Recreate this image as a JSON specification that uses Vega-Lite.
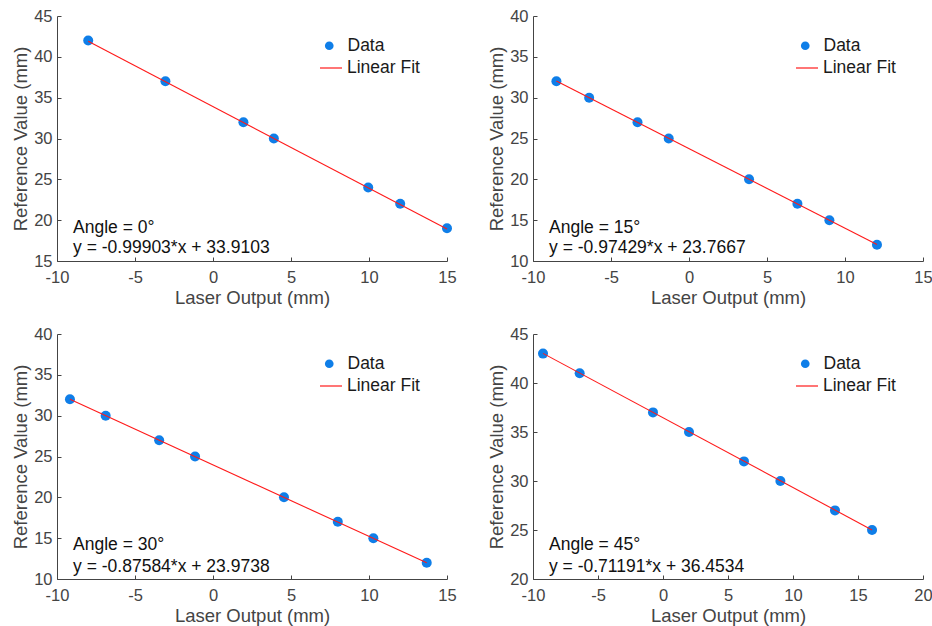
{
  "$schema": "https://vega.github.io/schema/vega-lite/v6.json",
  "background": "white",
  "padding": {"left": 11, "top": 8, "right": 5, "bottom": 5},
  "datasets": {
    "points": [
      {"angle": 0, "x": -8, "y": 42}, {"angle": 0, "x": -3.05, "y": 37}, {"angle": 0, "x": 1.95, "y": 32}, {"angle": 0, "x": 3.9, "y": 30}, {"angle": 0, "x": 9.95, "y": 24}, {"angle": 0, "x": 12, "y": 22}, {"angle": 0, "x": 15, "y": 19},
      {"angle": 15, "x": -8.5, "y": 32}, {"angle": 15, "x": -6.4, "y": 30}, {"angle": 15, "x": -3.3, "y": 27}, {"angle": 15, "x": -1.3, "y": 25}, {"angle": 15, "x": 3.85, "y": 20}, {"angle": 15, "x": 6.95, "y": 17}, {"angle": 15, "x": 9.0, "y": 15}, {"angle": 15, "x": 12.05, "y": 12},
      {"angle": 30, "x": -9.17, "y": 32}, {"angle": 30, "x": -6.88, "y": 30}, {"angle": 30, "x": -3.45, "y": 27}, {"angle": 30, "x": -1.15, "y": 25}, {"angle": 30, "x": 4.55, "y": 20}, {"angle": 30, "x": 8.0, "y": 17}, {"angle": 30, "x": 10.28, "y": 15}, {"angle": 30, "x": 13.7, "y": 12},
      {"angle": 45, "x": -9.23, "y": 43}, {"angle": 45, "x": -6.41, "y": 41}, {"angle": 45, "x": -0.77, "y": 37}, {"angle": 45, "x": 2.0, "y": 35}, {"angle": 45, "x": 6.23, "y": 32}, {"angle": 45, "x": 9.03, "y": 30}, {"angle": 45, "x": 13.23, "y": 27}, {"angle": 45, "x": 16.08, "y": 25}
    ],
    "fit": [
      {"angle": 0, "x": -8, "y": 41.90}, {"angle": 0, "x": 15, "y": 18.925},
      {"angle": 15, "x": -8.5, "y": 32.048}, {"angle": 15, "x": 12.05, "y": 12.026},
      {"angle": 30, "x": -9.17, "y": 32.005}, {"angle": 30, "x": 13.7, "y": 11.975},
      {"angle": 45, "x": -9.23, "y": 43.024}, {"angle": 45, "x": 16.08, "y": 25.006}
    ],
    "notes": [
      {"angle": 0, "line1": "Angle = 0°", "line2": "y = -0.99903*x + 33.9103"},
      {"angle": 15, "line1": "Angle = 15°", "line2": "y = -0.97429*x + 23.7667"},
      {"angle": 30, "line1": "Angle = 30°", "line2": "y = -0.87584*x + 23.9738"},
      {"angle": 45, "line1": "Angle = 45°", "line2": "y = -0.71191*x + 36.4534"}
    ]
  },
  "columns": 2,
  "spacing": {"row": 73, "column": 86},
  "bounds": "flush",
  "resolve": {"scale": {"x": "independent", "y": "independent", "color": "independent", "stroke": "independent"}, "legend": {"color": "independent", "stroke": "independent"}},
  "concat": [
    {
      "width": 390, "height": 245,
      "layer": [
        {"data": {"name": "points"}, "transform": [{"filter": "datum.angle == 0"}],
         "mark": {"type": "point", "filled": true, "size": 100, "opacity": 1},
         "encoding": {
           "x": {"field": "x", "type": "quantitative", "scale": {"domain": [-10, 15], "nice": false, "zero": false}, "axis": {"title": "Laser Output (mm)", "tickCount": 5}},
           "y": {"field": "y", "type": "quantitative", "scale": {"domain": [15, 45], "nice": false, "zero": false}, "axis": {"title": "Reference Value (mm)", "tickCount": 6}},
           "color": {"datum": "Data", "type": "nominal", "scale": {"domain": ["Data"], "range": ["#0f7ee8"]},
             "legend": {"orient": "none", "legendX": 263.5, "legendY": 21, "title": null, "padding": 0, "symbolType": "circle", "symbolSize": 75, "symbolOpacity": 1, "labelOffset": 9.5, "labelFontSize": 17.5, "labelColor": "#1a1a1a", "labelFont": "Liberation Sans"}}
         }},
        {"data": {"name": "fit"}, "transform": [{"filter": "datum.angle == 0"}],
         "mark": {"type": "line", "strokeWidth": 1.1},
         "encoding": {"x": {"field": "x", "type": "quantitative"}, "y": {"field": "y", "type": "quantitative"},
           "stroke": {"datum": "Linear Fit", "type": "nominal", "scale": {"domain": ["Linear Fit"], "range": ["#ff1a1a"]},
             "legend": {"orient": "none", "legendX": 262, "legendY": 40, "title": null, "padding": 0, "symbolType": "stroke", "symbolSize": 484, "symbolStrokeWidth": 1.2, "labelOffset": 4, "labelFontSize": 17.5, "labelColor": "#1a1a1a", "labelFont": "Liberation Sans"}}}},
        {"data": {"name": "notes"}, "transform": [{"filter": "datum.angle == 0"}],
         "mark": {"type": "text", "align": "left", "baseline": "middle", "fontSize": 17.5, "font": "Liberation Sans", "color": "#111"},
         "encoding": {"x": {"datum": -8.97}, "y": {"datum": 19.08}, "text": {"field": "line1"}}},
        {"data": {"name": "notes"}, "transform": [{"filter": "datum.angle == 0"}],
         "mark": {"type": "text", "align": "left", "baseline": "middle", "fontSize": 17.5, "font": "Liberation Sans", "color": "#111"},
         "encoding": {"x": {"datum": -8.97}, "y": {"datum": 16.56}, "text": {"field": "line2"}}}
      ]
    },
    {
      "width": 390, "height": 245,
      "layer": [
        {"data": {"name": "points"}, "transform": [{"filter": "datum.angle == 15"}],
         "mark": {"type": "point", "filled": true, "size": 100, "opacity": 1},
         "encoding": {
           "x": {"field": "x", "type": "quantitative", "scale": {"domain": [-10, 15], "nice": false, "zero": false}, "axis": {"title": "Laser Output (mm)", "tickCount": 5}},
           "y": {"field": "y", "type": "quantitative", "scale": {"domain": [10, 40], "nice": false, "zero": false}, "axis": {"title": "Reference Value (mm)", "tickCount": 6}},
           "color": {"datum": "Data", "type": "nominal", "scale": {"domain": ["Data"], "range": ["#0f7ee8"]},
             "legend": {"orient": "none", "legendX": 263.5, "legendY": 21, "title": null, "padding": 0, "symbolType": "circle", "symbolSize": 75, "symbolOpacity": 1, "labelOffset": 9.5, "labelFontSize": 17.5, "labelColor": "#1a1a1a", "labelFont": "Liberation Sans"}}
         }},
        {"data": {"name": "fit"}, "transform": [{"filter": "datum.angle == 15"}],
         "mark": {"type": "line", "strokeWidth": 1.1},
         "encoding": {"x": {"field": "x", "type": "quantitative"}, "y": {"field": "y", "type": "quantitative"},
           "stroke": {"datum": "Linear Fit", "type": "nominal", "scale": {"domain": ["Linear Fit"], "range": ["#ff1a1a"]},
             "legend": {"orient": "none", "legendX": 262, "legendY": 40, "title": null, "padding": 0, "symbolType": "stroke", "symbolSize": 484, "symbolStrokeWidth": 1.2, "labelOffset": 4, "labelFontSize": 17.5, "labelColor": "#1a1a1a", "labelFont": "Liberation Sans"}}}},
        {"data": {"name": "notes"}, "transform": [{"filter": "datum.angle == 15"}],
         "mark": {"type": "text", "align": "left", "baseline": "middle", "fontSize": 17.5, "font": "Liberation Sans", "color": "#111"},
         "encoding": {"x": {"datum": -8.97}, "y": {"datum": 14.08}, "text": {"field": "line1"}}},
        {"data": {"name": "notes"}, "transform": [{"filter": "datum.angle == 15"}],
         "mark": {"type": "text", "align": "left", "baseline": "middle", "fontSize": 17.5, "font": "Liberation Sans", "color": "#111"},
         "encoding": {"x": {"datum": -8.97}, "y": {"datum": 11.56}, "text": {"field": "line2"}}}
      ]
    },
    {
      "width": 390, "height": 245,
      "layer": [
        {"data": {"name": "points"}, "transform": [{"filter": "datum.angle == 30"}],
         "mark": {"type": "point", "filled": true, "size": 100, "opacity": 1},
         "encoding": {
           "x": {"field": "x", "type": "quantitative", "scale": {"domain": [-10, 15], "nice": false, "zero": false}, "axis": {"title": "Laser Output (mm)", "tickCount": 5}},
           "y": {"field": "y", "type": "quantitative", "scale": {"domain": [10, 40], "nice": false, "zero": false}, "axis": {"title": "Reference Value (mm)", "tickCount": 6}},
           "color": {"datum": "Data", "type": "nominal", "scale": {"domain": ["Data"], "range": ["#0f7ee8"]},
             "legend": {"orient": "none", "legendX": 263.5, "legendY": 21, "title": null, "padding": 0, "symbolType": "circle", "symbolSize": 75, "symbolOpacity": 1, "labelOffset": 9.5, "labelFontSize": 17.5, "labelColor": "#1a1a1a", "labelFont": "Liberation Sans"}}
         }},
        {"data": {"name": "fit"}, "transform": [{"filter": "datum.angle == 30"}],
         "mark": {"type": "line", "strokeWidth": 1.1},
         "encoding": {"x": {"field": "x", "type": "quantitative"}, "y": {"field": "y", "type": "quantitative"},
           "stroke": {"datum": "Linear Fit", "type": "nominal", "scale": {"domain": ["Linear Fit"], "range": ["#ff1a1a"]},
             "legend": {"orient": "none", "legendX": 262, "legendY": 40, "title": null, "padding": 0, "symbolType": "stroke", "symbolSize": 484, "symbolStrokeWidth": 1.2, "labelOffset": 4, "labelFontSize": 17.5, "labelColor": "#1a1a1a", "labelFont": "Liberation Sans"}}}},
        {"data": {"name": "notes"}, "transform": [{"filter": "datum.angle == 30"}],
         "mark": {"type": "text", "align": "left", "baseline": "middle", "fontSize": 17.5, "font": "Liberation Sans", "color": "#111"},
         "encoding": {"x": {"datum": -8.97}, "y": {"datum": 14.13}, "text": {"field": "line1"}}},
        {"data": {"name": "notes"}, "transform": [{"filter": "datum.angle == 30"}],
         "mark": {"type": "text", "align": "left", "baseline": "middle", "fontSize": 17.5, "font": "Liberation Sans", "color": "#111"},
         "encoding": {"x": {"datum": -8.97}, "y": {"datum": 11.47}, "text": {"field": "line2"}}}
      ]
    },
    {
      "width": 390, "height": 245,
      "layer": [
        {"data": {"name": "points"}, "transform": [{"filter": "datum.angle == 45"}],
         "mark": {"type": "point", "filled": true, "size": 100, "opacity": 1},
         "encoding": {
           "x": {"field": "x", "type": "quantitative", "scale": {"domain": [-10, 20], "nice": false, "zero": false}, "axis": {"title": "Laser Output (mm)", "tickCount": 5}},
           "y": {"field": "y", "type": "quantitative", "scale": {"domain": [20, 45], "nice": false, "zero": false}, "axis": {"title": "Reference Value (mm)", "tickCount": 5}},
           "color": {"datum": "Data", "type": "nominal", "scale": {"domain": ["Data"], "range": ["#0f7ee8"]},
             "legend": {"orient": "none", "legendX": 263.5, "legendY": 21, "title": null, "padding": 0, "symbolType": "circle", "symbolSize": 75, "symbolOpacity": 1, "labelOffset": 9.5, "labelFontSize": 17.5, "labelColor": "#1a1a1a", "labelFont": "Liberation Sans"}}
         }},
        {"data": {"name": "fit"}, "transform": [{"filter": "datum.angle == 45"}],
         "mark": {"type": "line", "strokeWidth": 1.1},
         "encoding": {"x": {"field": "x", "type": "quantitative"}, "y": {"field": "y", "type": "quantitative"},
           "stroke": {"datum": "Linear Fit", "type": "nominal", "scale": {"domain": ["Linear Fit"], "range": ["#ff1a1a"]},
             "legend": {"orient": "none", "legendX": 262, "legendY": 40, "title": null, "padding": 0, "symbolType": "stroke", "symbolSize": 484, "symbolStrokeWidth": 1.2, "labelOffset": 4, "labelFontSize": 17.5, "labelColor": "#1a1a1a", "labelFont": "Liberation Sans"}}}},
        {"data": {"name": "notes"}, "transform": [{"filter": "datum.angle == 45"}],
         "mark": {"type": "text", "align": "left", "baseline": "middle", "fontSize": 17.5, "font": "Liberation Sans", "color": "#111"},
         "encoding": {"x": {"datum": -8.77}, "y": {"datum": 23.44}, "text": {"field": "line1"}}},
        {"data": {"name": "notes"}, "transform": [{"filter": "datum.angle == 45"}],
         "mark": {"type": "text", "align": "left", "baseline": "middle", "fontSize": 17.5, "font": "Liberation Sans", "color": "#111"},
         "encoding": {"x": {"datum": -8.77}, "y": {"datum": 21.22}, "text": {"field": "line2"}}}
      ]
    }
  ],
  "config": {
    "font": "Liberation Sans",
    "view": {"stroke": null},
    "axis": {"grid": false, "domainColor": "#444", "tickColor": "#444", "labelColor": "#444", "titleColor": "#444", "labelFont": "Liberation Sans", "titleFont": "Liberation Sans", "labelFontSize": 16.5, "titleFontSize": 18.5, "titleFontWeight": "normal", "tickSize": -4, "domainWidth": 1, "tickWidth": 1, "labelFlush": false, "labelOverlap": false, "labelExpr": "'' + datum.value"},
    "axisX": {"labelPadding": 12, "titlePadding": 3},
    "axisY": {"labelPadding": 9, "titlePadding": 3}
  }
}
